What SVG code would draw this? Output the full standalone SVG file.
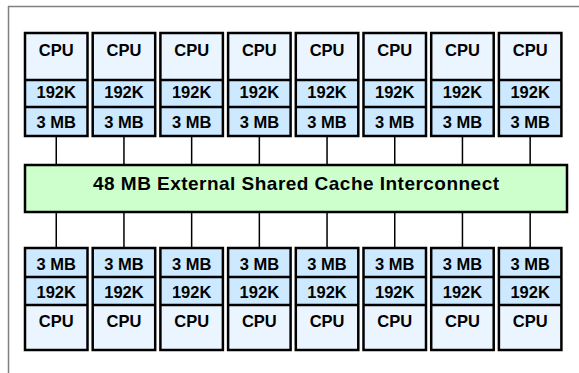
<svg xmlns="http://www.w3.org/2000/svg" width="579" height="373" viewBox="0 0 579 373">
<style>
.cpu{fill:#EAF5FF}
.cache{fill:#CCE9FF}
.bd{fill:none;stroke:#000;stroke-width:2.5}
.dv{stroke:#000;stroke-width:2.5}
.t{font-family:"Liberation Sans",Arial,sans-serif;font-weight:bold;font-size:16.5px;text-anchor:middle;fill:#000}
.bt{font-family:"Liberation Sans",Arial,sans-serif;font-weight:bold;font-size:19px;text-anchor:middle;fill:#000}
.cn{stroke:#000;stroke-width:1.5;fill:none}
</style>
<defs>
<g id="up">
<rect x="0" y="0" width="62.5" height="47" class="cpu"/>
<rect x="0" y="47" width="62.5" height="56" class="cache"/>
<line x1="0" y1="47" x2="62.5" y2="47" class="dv"/>
<line x1="0" y1="74" x2="62.5" y2="74" class="dv"/>
<rect x="0" y="0" width="62.5" height="103" class="bd"/>
<text x="31.25" y="23.2" class="t">CPU</text>
<text x="31.25" y="64.5" class="t">192K</text>
<text x="31.25" y="95.2" class="t">3 MB</text>
</g>
<g id="dn">
<rect x="0" y="0" width="62.5" height="57" class="cache"/>
<rect x="0" y="57" width="62.5" height="45" class="cpu"/>
<line x1="0" y1="29" x2="62.5" y2="29" class="dv"/>
<line x1="0" y1="57" x2="62.5" y2="57" class="dv"/>
<rect x="0" y="0" width="62.5" height="102" class="bd"/>
<text x="31.25" y="21.7" class="t">3 MB</text>
<text x="31.25" y="49.9" class="t">192K</text>
<text x="31.25" y="78.7" class="t">CPU</text>
</g>
</defs>
<g id="frame">
<line x1="8" y1="6.5" x2="579" y2="6.5" stroke="#808080" stroke-width="1.5"/>
<line x1="8.5" y1="6" x2="8.5" y2="373" stroke="#808080" stroke-width="1.5"/>
</g>
<g id="connectors">
<path class="cn" d="M56.25 136V165M56.25 212V248M123.95 136V165M123.95 212V248M191.65 136V165M191.65 212V248M259.35 136V165M259.35 212V248M327.05 136V165M327.05 212V248M394.75 136V165M394.75 212V248M462.45 136V165M462.45 212V248M530.15 136V165M530.15 212V248"/>
</g>
<g id="interconnect">
<rect x="25" y="165" width="542" height="47" fill="#CCFFCC" stroke="#000" stroke-width="2.5"/>
<text x="296" y="190.3" class="bt" textLength="406" lengthAdjust="spacing">48 MB External Shared Cache Interconnect</text>
</g>
<g id="top-cpu-1"><use href="#up" x="25" y="33"/></g>
<g id="top-cpu-2"><use href="#up" x="92.7" y="33"/></g>
<g id="top-cpu-3"><use href="#up" x="160.4" y="33"/></g>
<g id="top-cpu-4"><use href="#up" x="228.1" y="33"/></g>
<g id="top-cpu-5"><use href="#up" x="295.8" y="33"/></g>
<g id="top-cpu-6"><use href="#up" x="363.5" y="33"/></g>
<g id="top-cpu-7"><use href="#up" x="431.2" y="33"/></g>
<g id="top-cpu-8"><use href="#up" x="498.9" y="33"/></g>
<g id="bottom-cpu-1"><use href="#dn" x="25" y="248"/></g>
<g id="bottom-cpu-2"><use href="#dn" x="92.7" y="248"/></g>
<g id="bottom-cpu-3"><use href="#dn" x="160.4" y="248"/></g>
<g id="bottom-cpu-4"><use href="#dn" x="228.1" y="248"/></g>
<g id="bottom-cpu-5"><use href="#dn" x="295.8" y="248"/></g>
<g id="bottom-cpu-6"><use href="#dn" x="363.5" y="248"/></g>
<g id="bottom-cpu-7"><use href="#dn" x="431.2" y="248"/></g>
<g id="bottom-cpu-8"><use href="#dn" x="498.9" y="248"/></g>
</svg>
